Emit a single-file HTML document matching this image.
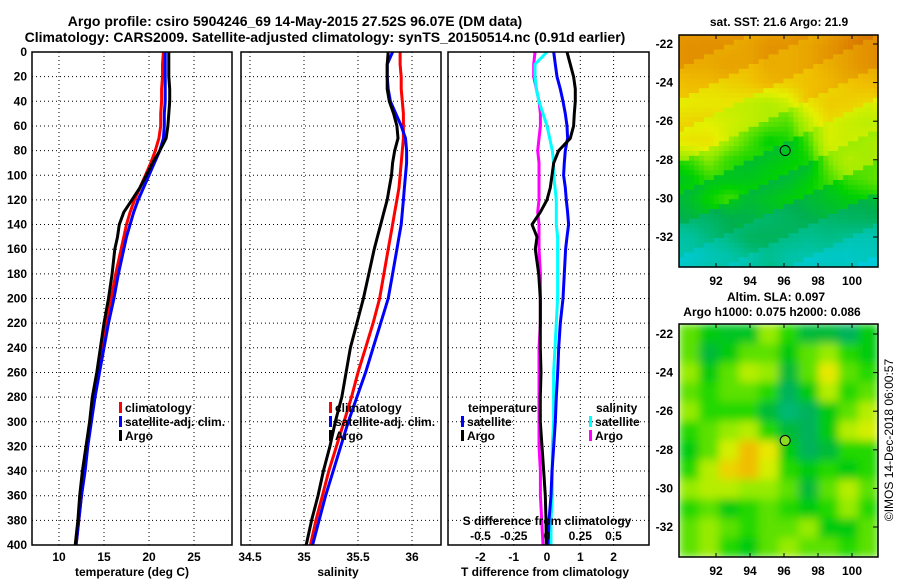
<!DOCTYPE html>
<html><head><meta charset="utf-8"><style>
html,body{margin:0;padding:0;background:#fff;}
svg{display:block;font-family:"Liberation Sans",sans-serif;font-weight:bold;}
</style></head><body>
<svg id="fig" width="900" height="580" viewBox="0 0 900 580" xmlns="http://www.w3.org/2000/svg">
<defs><filter id="blur" x="0" y="0" width="1" height="1"><feGaussianBlur stdDeviation="4.5" edgeMode="duplicate"/></filter>
<clipPath id="clipB"><rect x="679" y="324" width="199" height="233"/></clipPath></defs>
<text x="295" y="26" font-size="14" text-anchor="middle">Argo profile: csiro 5904246_69 14-May-2015 27.52S 96.07E (DM data)</text>
<text x="325" y="42" font-size="14" text-anchor="middle">Climatology: CARS2009. Satellite-adjusted climatology: synTS_20150514.nc (0.91d earlier)</text>
<g id="g"></g>
</svg>
<script>
// ---- data ----
const depthTicks=[0,20,40,60,80,100,120,140,160,180,200,220,240,260,280,300,320,340,360,380,400];
const tTicks=[10,15,20,25];
const sTicks=[34.5,35,35.5,36];
const dTTicks=[-2,-1,0,1,2];
const dSTicks=[-0.5,-0.25,0,0.25,0.5];
const depths=[0,10,20,30,40,50,60,70,80,90,100,110,120,130,140,150,160,180,200,220,240,260,280,300,320,340,360,380,400];
const tClim=[21.6,21.5,21.5,21.4,21.4,21.3,21.3,21.1,20.7,20.2,19.6,19.0,18.4,17.9,17.5,17.2,16.9,16.3,15.8,15.3,14.8,14.4,13.9,13.5,13.1,12.8,12.5,12.2,11.9];
const tSat=[21.8,21.8,21.8,21.8,21.8,21.7,21.7,21.6,21.2,20.6,20.0,19.4,18.8,18.3,17.9,17.5,17.2,16.6,16.1,15.5,15.0,14.5,14.0,13.6,13.2,12.9,12.5,12.2,11.9];
const tArgo=[22.2,22.2,22.2,22.3,22.3,22.2,22.1,21.9,21.2,20.4,19.7,19.0,18.1,17.2,16.7,16.5,16.2,15.9,15.5,15.0,14.6,14.2,13.7,13.4,13.0,12.6,12.3,12.1,11.8];
const sClim=[35.89,35.89,35.9,35.9,35.91,35.92,35.92,35.92,35.91,35.9,35.89,35.88,35.86,35.84,35.82,35.8,35.78,35.74,35.7,35.64,35.57,35.5,35.44,35.37,35.3,35.23,35.17,35.11,35.06];
const sSat=[35.82,35.77,35.77,35.78,35.8,35.85,35.9,35.94,35.95,35.95,35.94,35.93,35.92,35.91,35.9,35.88,35.86,35.82,35.78,35.71,35.64,35.57,35.49,35.41,35.34,35.27,35.2,35.14,35.08];
const sArgo=[35.78,35.77,35.77,35.77,35.79,35.83,35.86,35.87,35.84,35.82,35.81,35.79,35.77,35.74,35.71,35.68,35.65,35.6,35.55,35.49,35.43,35.39,35.35,35.29,35.24,35.18,35.13,35.07,35.02];
const dTSat=[0.2,0.25,0.3,0.4,0.48,0.55,0.6,0.62,0.55,0.52,0.5,0.55,0.58,0.62,0.65,0.6,0.56,0.52,0.48,0.4,0.35,0.32,0.28,0.25,0.2,0.15,0.12,0.06,0.03];
const dTArgo=[0.6,0.7,0.8,0.85,0.85,0.82,0.8,0.7,0.35,0.2,0.15,0.1,0.0,-0.2,-0.45,-0.3,-0.35,-0.25,-0.2,-0.2,-0.2,-0.18,-0.2,-0.2,-0.15,-0.1,-0.05,-0.03,-0.02];
const dSSat=[0.0,-0.09,-0.09,-0.08,-0.06,-0.03,0.0,0.02,0.04,0.05,0.05,0.06,0.07,0.07,0.07,0.08,0.08,0.08,0.08,0.07,0.06,0.05,0.05,0.05,0.04,0.04,0.04,0.03,0.03];
const dSArgo=[-0.09,-0.1,-0.1,-0.08,-0.06,-0.05,-0.05,-0.06,-0.07,-0.06,-0.06,-0.06,-0.06,-0.07,-0.06,-0.06,-0.06,-0.05,-0.05,-0.05,-0.06,-0.06,-0.06,-0.06,-0.06,-0.05,-0.05,-0.04,-0.03];
const lonTicks=[92,94,96,98,100];
const latTicks=[-22,-24,-26,-28,-30,-32];
const sstGrid=[
[0.95,0.93,0.9,0.9,0.92,0.9,0.9,0.92,0.95,0.97],
[0.9,0.88,0.88,0.85,0.88,0.85,0.85,0.88,0.9,0.92],
[0.8,0.78,0.78,0.78,0.8,0.8,0.8,0.8,0.82,0.82],
[0.72,0.7,0.68,0.65,0.6,0.62,0.75,0.78,0.75,0.7],
[0.72,0.7,0.65,0.6,0.55,0.5,0.6,0.7,0.65,0.6],
[0.72,0.7,0.6,0.5,0.4,0.4,0.5,0.65,0.6,0.6],
[0.5,0.55,0.45,0.4,0.4,0.4,0.4,0.55,0.6,0.55],
[0.38,0.42,0.4,0.38,0.38,0.38,0.4,0.45,0.5,0.5],
[0.38,0.42,0.45,0.38,0.38,0.38,0.38,0.38,0.38,0.38],
[0.3,0.3,0.32,0.3,0.3,0.3,0.3,0.3,0.3,0.28],
[0.15,0.2,0.25,0.3,0.28,0.25,0.2,0.2,0.15,0.12],
[0.08,0.1,0.1,0.15,0.2,0.12,0.08,0.08,0.05,0.05]];
const slaGrid=[
[0.5,0.4,0.38,0.38,0.55,0.45,0.35,0.35,0.3,0.4],
[0.5,0.35,0.4,0.5,0.5,0.4,0.5,0.55,0.45,0.4],
[0.55,0.4,0.5,0.6,0.55,0.35,0.5,0.7,0.5,0.45],
[0.5,0.45,0.5,0.5,0.45,0.3,0.4,0.6,0.45,0.5],
[0.55,0.45,0.45,0.45,0.35,0.25,0.3,0.4,0.5,0.6],
[0.45,0.5,0.55,0.6,0.45,0.35,0.3,0.4,0.6,0.65],
[0.4,0.5,0.65,0.8,0.7,0.4,0.3,0.35,0.45,0.45],
[0.45,0.6,0.75,0.8,0.65,0.45,0.4,0.45,0.4,0.45],
[0.55,0.6,0.6,0.55,0.55,0.5,0.35,0.5,0.6,0.5],
[0.45,0.5,0.4,0.45,0.5,0.45,0.4,0.45,0.55,0.45],
[0.5,0.55,0.5,0.45,0.5,0.5,0.55,0.4,0.4,0.5],
[0.5,0.55,0.45,0.4,0.5,0.55,0.5,0.5,0.45,0.5]];
const argoLon=96.07, argoLat=-27.52;

// ---- scales ----
const y=d=>52+d*1.2325;
const xT=t=>59+9*(t-10);
const xS=s=>250+108*(s-34.5);
const xDT=v=>547+33.3*v;
const xDS=v=>547+133*v;
const mapX=lon=>784+17*(lon-96);
const mapYT=lat=>44+19.3*(-22-lat);
const mapYB=lat=>334+19.3*(-22-lat);
const NS='http://www.w3.org/2000/svg';
const G=document.getElementById('g');
function el(tag,a,parent){const e=document.createElementNS(NS,tag);for(const k in a)e.setAttribute(k,a[k]);(parent||G).appendChild(e);return e;}
function txt(x,yy,s,anchor,size){const e=el('text',{x:x,y:yy,'font-size':size||12,'text-anchor':anchor||'middle'});e.textContent=s;return e;}

const panels=[{x0:32,x1:232,name:'temperature'},{x0:241,x1:441,name:'salinity'},{x0:448,x1:649,name:'difference'}];
const vgrid=[tTicks.map(xT),sTicks.map(xS),[-2,-1,1,2].map(xDT)];
panels.forEach((p,i)=>{
  depthTicks.forEach(d=>{
    if(d===0||d===400)return;
    const l=el('line',{x1:p.x0,x2:p.x1,y1:y(d),y2:y(d),stroke:'#000','stroke-dasharray':'1,3','stroke-width':1});
    
    
  });
  vgrid[i].forEach(gx=>{
    const l=el('line',{x1:gx,x2:gx,y1:y(0),y2:y(400),stroke:'#000','stroke-dasharray':'1,3','stroke-width':1});
    
    
  });
});
depthTicks.forEach(d=>{
  const t=txt(27,y(d)+4,String(d),'end',12);
  
  
});
function line(xf,xs,color,name){
  const pts=depths.map((d,i)=>xf(xs[i]).toFixed(1)+','+y(d).toFixed(1)).join(' ');
  const l=el('polyline',{points:pts,fill:'none',stroke:color,'stroke-width':3,'stroke-linejoin':'round'});
  
  
}
line(xT,tClim,'#ff0000','temp-climatology-line');
line(xT,tSat,'#0000ff','temp-satellite-line');
line(xT,tArgo,'#000000','temp-argo-line');
line(xS,sClim,'#ff0000','sal-climatology-line');
line(xS,sSat,'#0000ff','sal-satellite-line');
line(xS,sArgo,'#000000','sal-argo-line');
line(xDS,dSArgo,'#ff00ff','sdiff-argo-line');
line(xDS,dSSat,'#00ffff','sdiff-satellite-line');
line(xDT,dTSat,'#0000ff','tdiff-satellite-line');
line(xDT,dTArgo,'#000000','tdiff-argo-line');
panels.forEach(p=>{
  const r=el('rect',{x:p.x0,y:y(0),width:p.x1-p.x0,height:y(400)-y(0),fill:'none',stroke:'#000','stroke-width':1.5});
  
  
});
tTicks.forEach(t=>{const e=txt(xT(t),561,String(t));});
sTicks.forEach(t=>{const e=txt(xS(t),561,String(t));});
dTTicks.forEach(t=>{const e=txt(xDT(t),561,String(t));});
dSTicks.forEach(t=>{const e=txt(xDS(t),540,String(t));});
[['temperature (deg C)',132,'temp-axis-title'],['salinity',338,'sal-axis-title'],['T difference from climatology',545,'tdiff-axis-title']].forEach(a=>{const e=txt(a[1],576,a[0]);});
{const e=txt(547,525,'S difference from climatology');}
function leg(x,yy,color,label,name){
  const m=el('rect',{x:x,y:yy-10,width:3,height:11,fill:color});
  
  
  const t=txt(x+6,yy,label,'start',12);
  
  
}
leg(119,412,'#ff0000','climatology','legend-temp-climatology');
leg(119,426,'#0000ff','satellite-adj. clim.','legend-temp-satellite');
leg(119,440,'#000000','Argo','legend-temp-argo');
leg(329,412,'#ff0000','climatology','legend-sal-climatology');
leg(329,426,'#0000ff','satellite-adj. clim.','legend-sal-satellite');
leg(329,440,'#000000','Argo','legend-sal-argo');
{const e=txt(468,412,'temperature','start');}
leg(461,426,'#0000ff','satellite','legend-tdiff-satellite');
leg(461,440,'#000000','Argo','legend-tdiff-argo');
{const e=txt(596,412,'salinity','start');}
leg(589,426,'#00ffff','satellite','legend-sdiff-satellite');
leg(589,440,'#ff00ff','Argo','legend-sdiff-argo');

const stops=[[0,[0,204,224]],[0.2,[0,190,140]],[0.32,[0,176,80]],[0.42,[0,210,0]],[0.55,[150,235,0]],[0.68,[230,240,0]],[0.8,[240,190,0]],[0.95,[225,140,0]],[1,[215,120,0]]];
function cmap(v){v=Math.max(0,Math.min(1,v));for(let i=1;i<stops.length;i++){if(v<=stops[i][0]){const a=stops[i-1],b=stops[i],f=(v-a[0])/(b[0]-a[0]);return 'rgb('+a[1].map((c,k)=>Math.round(c+(b[1][k]-c)*f)).join(',')+')';}}return 'rgb(215,120,0)';}
function sample(grid,fx,fy){
  const rows=grid.length,cols=grid[0].length;
  const gx=Math.max(0,Math.min(cols-1,fx*cols-0.5)),gy=Math.max(0,Math.min(rows-1,fy*rows-0.5));
  const x0=Math.floor(gx),y0=Math.floor(gy),x1=Math.min(cols-1,x0+1),y1=Math.min(rows-1,y0+1),ax=gx-x0,ay=gy-y0;
  return grid[y0][x0]*(1-ax)*(1-ay)+grid[y0][x1]*ax*(1-ay)+grid[y1][x0]*(1-ax)*ay+grid[y1][x1]*ax*ay;
}
function drawMap(grid,x0,y0,w,h,name,blur,sub,speck){
  const g=el('g',blur?{filter:'url(#blur)','clip-path':'url(#clipB)'}:{});
  
  
  const cols=grid[0].length*sub,rows=grid.length*sub,cw=w/cols,ch=h/rows;
  for(let r=0;r<rows;r++)for(let c=0;c<cols;c++){
    let v=sample(grid,(c+0.5)/cols,(r+0.5)/rows);
    if(speck){v+=(((r*7919+c*104729)%13)/13-0.5)*0.08;}
    const rc=el('rect',{x:(x0+c*cw).toFixed(1),y:(y0+r*ch).toFixed(1),width:(cw+0.6).toFixed(1),height:(ch+0.6).toFixed(1),fill:cmap(v)},g);
    
    
  }
}
drawMap(sstGrid,679,35,199,232,'sst-map',false,4,true);
drawMap(slaGrid,679,324,199,233,'sla-map',true,1,false);
function mapFrame(y0,h,yf,name){
  const r=el('rect',{x:679,y:y0,width:199,height:h,fill:'none',stroke:'#000','stroke-width':1.5});
  
  
  latTicks.forEach(l=>{
    const t=txt(673,yf(l)+4,String(l),'end',12);
    
    
    el('line',{x1:878,x2:873,y1:yf(l),y2:yf(l),stroke:'#000'});
  });
  lonTicks.forEach(l=>{
    el('line',{x1:mapX(l),x2:mapX(l),y1:y0+h,y2:y0+h-4,stroke:'#000'});
    el('line',{x1:mapX(l),x2:mapX(l),y1:y0,y2:y0+4,stroke:'#000'});
    const t=txt(mapX(l),y0+h+18,String(l));
    
    
  });
  const c=el('circle',{cx:mapX(argoLon),cy:yf(argoLat),r:5,fill:name==='sla-map'?'#88dd22':'none',stroke:'#000','stroke-width':1});
  
  
}
mapFrame(35,232,mapYT,'sst-map');
mapFrame(324,233,mapYB,'sla-map');
{const e=txt(779,26,'sat. SST: 21.6 Argo: 21.9');}
{const e=txt(776,301,'Altim. SLA: 0.097');}
{const e=txt(772,316,'Argo h1000: 0.075 h2000: 0.086');}
{const e=el('text',{x:0,y:0,'font-size':12,'font-weight':'normal','text-anchor':'middle',transform:'translate(893,440) rotate(-90)'});e.textContent='©IMOS 14-Dec-2018 06:00:57';}
</script>
</body></html>
